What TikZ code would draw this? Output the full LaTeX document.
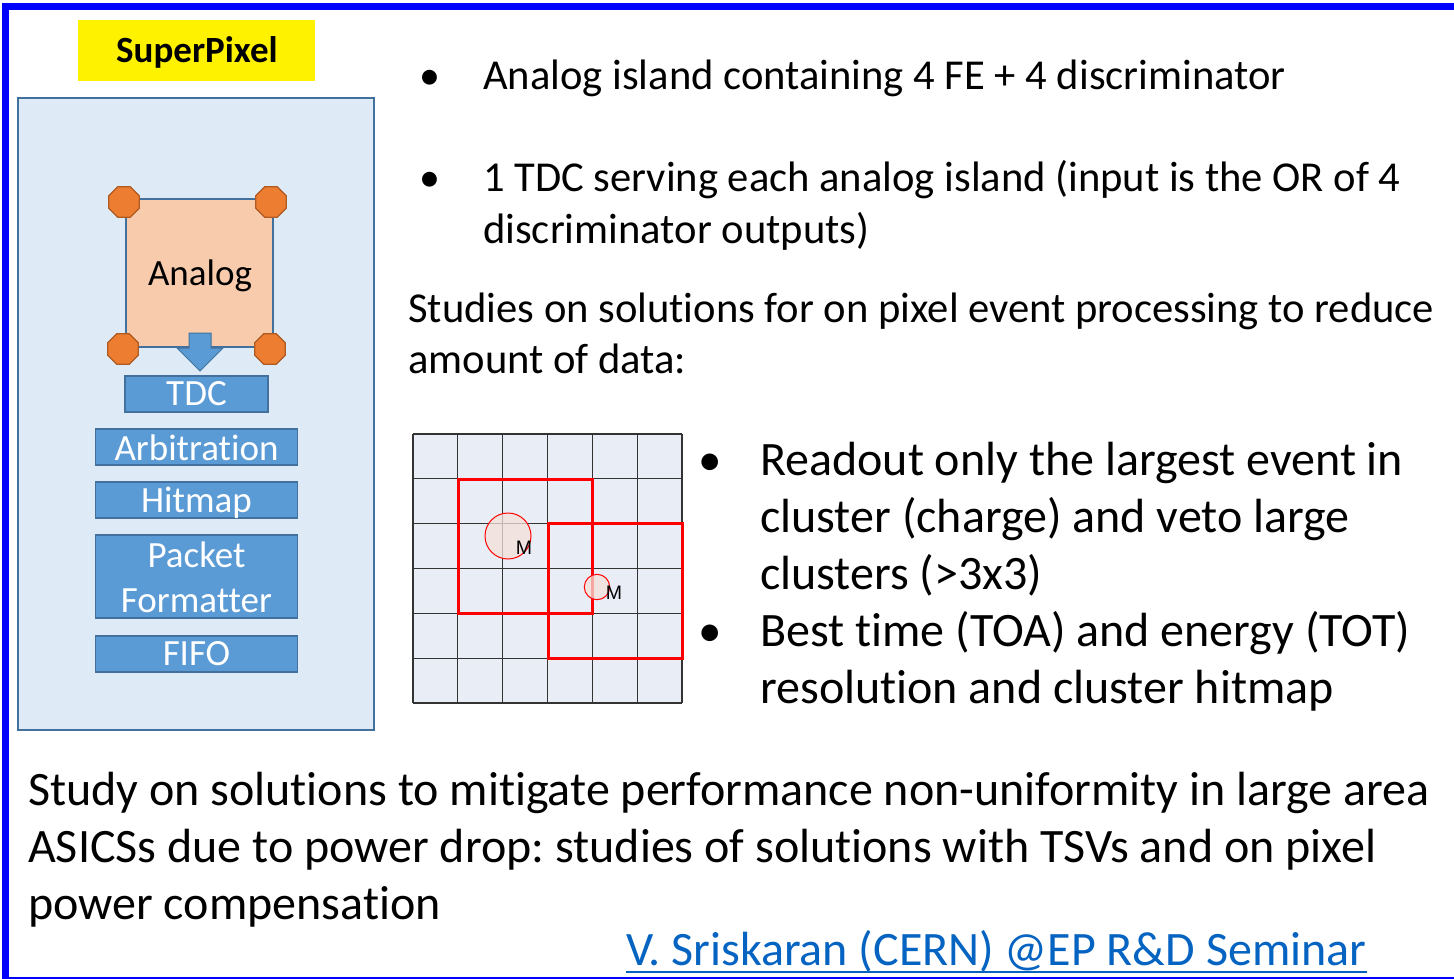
\documentclass[tikz,border=0pt]{standalone}
\usepackage{fontspec}
\setmainfont[Ligatures={NoCommon}]{Carlito}
\newfontfamily\arialf{Liberation Sans}
\usetikzlibrary{shapes.geometric}
\frenchspacing
\definecolor{frameblue}{HTML}{0000FF}
\definecolor{panelfill}{HTML}{DEEBF7}
\definecolor{boxedge}{HTML}{41719C}
\definecolor{blockblue}{HTML}{5B9BD5}
\definecolor{analogfill}{HTML}{F8CBAD}
\definecolor{octfill}{HTML}{ED7D31}
\definecolor{octedge}{HTML}{AE5A21}
\definecolor{gridfill}{HTML}{E9EDF6}
\definecolor{gridline}{HTML}{333333}
\definecolor{peach}{HTML}{F4E0D8}
\definecolor{linkblue}{HTML}{0563C1}
\tikzset{
 txt/.style={anchor=base west, inner sep=0, font=\fontsize{42.6}{51}\selectfont\frenchspacing},
 bigtxt/.style={anchor=base west, inner sep=0, font=\fontsize{48}{57}\selectfont\frenchspacing},
 bul/.style={anchor=base, inner sep=0, font=\fontsize{42}{51}\selectfont},
 bigbul/.style={anchor=base, inner sep=0, font=\fontsize{47}{57}\selectfont},
 blk/.style={draw=boxedge, fill=blockblue, line width=1.5pt, inner sep=0},
 blktxt/.style={anchor=base, inner sep=0, text=white, font=\fontsize{37}{45}\selectfont},
 oct/.style={regular polygon, regular polygon sides=8, minimum size=33pt, inner sep=0, fill=octfill, draw=octedge, line width=1.2pt},
 redbox/.style={draw=red, line width=3pt},
 dot/.style={draw=red, line width=1pt, fill=peach, fill opacity=0.75},
 mlab/.style={inner sep=0, font=\arialf\fontsize{19.5}{20}\selectfont},
}
\begin{document}
\begin{tikzpicture}[x=1pt,y=-1pt]
\useasboundingbox (0,0) rectangle (1454,979);
\fill[white] (0,0) rectangle (1454,979);
% frame
\draw[frameblue, line width=7pt] (5,979) -- (5,7) -- (1460,7);
\draw[frameblue, line width=3pt] (5,978) -- (1460,978);
% left panel
\node[fill=yellow, minimum width=237, minimum height=61, inner sep=0] (sp) at (196.5,50.5) {};
\node[anchor=base, inner sep=0, font=\bfseries\fontsize{37}{45}\selectfont] (sptxt) at (197,63) {SuperPixel};
\node[draw=boxedge, fill=panelfill, line width=1.5pt, minimum width=356, minimum height=632, inner sep=0] (panel) at (196,414) {};
\node[draw=boxedge, fill=analogfill, line width=1.5pt, minimum width=147, minimum height=148, inner sep=0] (analog) at (199.5,273) {};
\node[anchor=base, inner sep=0, font=\fontsize{37}{45}\selectfont] (analogtxt) at (200,285) {Analog};
\node[oct] (o1) at (124,202) {};
\node[oct] (o2) at (271,202) {};
\node[oct] (o3) at (123,349) {};
\node[oct] (o4) at (270,349) {};
\draw[fill=blockblue, draw=boxedge, line width=1pt] (189,333) -- (211,333) -- (211,348) -- (223,348) -- (200,371) -- (177,348) -- (189,348) -- cycle;
\node[blk, minimum width=143, minimum height=36] (tdc) at (196.5,394) {};
\node[blktxt] at (196.5,405) {TDC};
\node[blk, minimum width=202, minimum height=36] (arb) at (196.5,447) {};
\node[blktxt] at (196.5,460) {Arbitration};
\node[blk, minimum width=202, minimum height=36] (hit) at (196.5,500) {};
\node[blktxt] at (196.5,512) {Hitmap};
\node[blk, minimum width=202, minimum height=83] (pf) at (196.5,576.5) {};
\node[blktxt] at (196.5,567) {Packet};
\node[blktxt] at (196.5,612) {Formatter};
\node[blk, minimum width=202, minimum height=36] (fifo) at (196.5,654) {};
\node[blktxt] at (196.5,665) {FIFO};
% top text
\node[bul] at (430,90) {•};
\node[txt] at (483,90) {Analog island containing 4 FE + 4 discriminator};
\node[bul] at (430,191) {•};
\node[txt] at (483,191) {1 TDC serving each analog island (input is the OR of 4};
\node[txt] at (483,243) {discriminator outputs)};
\node[txt] at (408,322) {Studies on solutions for on pixel event processing to reduce};
\node[txt] at (408,373) {amount of data:};
% grid
\fill[gridfill] (413,434) rectangle (682,703);
\foreach \i in {0,...,6} {
  \draw[gridline, line width=1.2pt] (413+\i*44.83,434) -- (413+\i*44.83,703);
  \draw[gridline, line width=1.2pt] (413,434+\i*44.83) -- (682,434+\i*44.83);
}
\draw[redbox] (458,479) rectangle (592,613);
\draw[redbox] (548,523) rectangle (682,658);
\draw[dot] (508,536) circle (23);
\draw[dot] (597,587) circle (12.7);
\node[mlab] at (524,548) {M};
\node[mlab] at (614,593) {M};
% right bullets
\node[bigbul] at (710,475) {•};
\node[bigtxt] at (760,475) {Readout only the largest event in};
\node[bigtxt] at (760,532) {cluster (charge) and veto large};
\node[bigtxt] at (760,589) {clusters (>3x3)};
\node[bigbul] at (710,646) {•};
\node[bigtxt] at (760,646) {Best time (TOA) and energy (TOT)};
\node[bigtxt] at (760,703) {resolution and cluster hitmap};
% bottom
\node[bigtxt] at (28,805) {Study on solutions to mitigate performance non-uniformity in large area};
\node[bigtxt] at (28,862) {ASICSs due to power drop: studies of solutions with TSVs and on pixel};
\node[bigtxt] at (28,919) {power compensation};
\node[bigtxt, text=linkblue] (link) at (626,965) {V. Sriskaran (CERN) @EP R\&D Seminar};
\draw[linkblue, line width=2.5pt] ([yshift=-7pt]link.base west) -- ([yshift=-7pt]link.base east);
\end{tikzpicture}
\end{document}
